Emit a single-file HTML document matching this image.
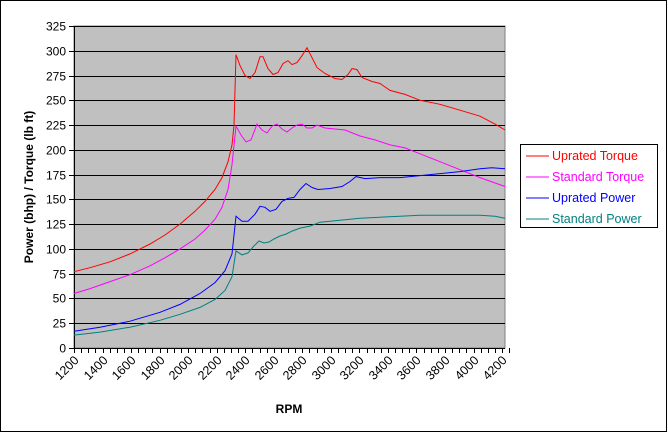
<!DOCTYPE html>
<html><head><style>
html,body{margin:0;padding:0;background:#fff}
svg{display:block;font-family:"Liberation Sans",Arial,sans-serif}
</style></head><body>
<svg id="s" width="668" height="433" viewBox="0 0 668 433" xmlns="http://www.w3.org/2000/svg">
<rect x="0.5" y="0.5" width="666" height="431" fill="#fff" stroke="#000"/>
<rect x="74" y="26" width="431" height="322" fill="#c0c0c0" stroke="#808080"/>
<g id="grid"></g>
<g id="series" fill="none" stroke-width="1"></g>
<text transform="translate(33,187) rotate(-90)" text-anchor="middle" font-size="12" font-weight="bold" x="0" y="0">Power (bhp) / Torque (lb ft)</text>
<text x="289" y="413" text-anchor="middle" font-size="12" font-weight="bold">RPM</text>
<rect x="520.5" y="144.5" width="137" height="83" fill="#fff" stroke="#000"/>
<g font-size="12.5">
<line x1="526" y1="156" x2="549" y2="156" stroke="#f00"/><text x="552" y="160" fill="#f00">Uprated Torque</text>
<line x1="526" y1="177" x2="549" y2="177" stroke="#f0f"/><text x="552" y="181" fill="#f0f">Standard Torque</text>
<line x1="526" y1="198" x2="549" y2="198" stroke="#00f"/><text x="552" y="202" fill="#00f">Uprated Power</text>
<line x1="526" y1="219" x2="549" y2="219" stroke="#008080"/><text x="552" y="223" fill="#008080">Standard Power</text>
</g>
</svg>
<script>
var NS="http://www.w3.org/2000/svg";
function Y(v){return 348-v*0.9908;}
function el(t,a,p,txt){var e=document.createElementNS(NS,t);for(var k in a)e.setAttribute(k,a[k]);if(txt!==undefined)e.textContent=txt;p.appendChild(e);return e;}
var g=document.getElementById('grid');
for(var v=0;v<=325;v+=25){var y=Math.round(Y(v))+0.5;
 if(v>0)el('line',{x1:74,y1:y,x2:505,y2:y,stroke:'#000'},g);
 el('line',{x1:69,y1:y,x2:74,y2:y,stroke:'#000'},g);
 el('text',{x:66,y:y+4,'text-anchor':'end','font-size':12},g,v);}
el('line',{x1:74.5,y1:26,x2:74.5,y2:348,stroke:'#000'},g);
el('line',{x1:74,y1:348.5,x2:505,y2:348.5,stroke:'#000'},g);
for(var r=1200;r<=4250;r+=50){var x=Math.round(74+(r-1200)*0.1427)+0.5;
 el('line',{x1:x,y1:348,x2:x,y2:353,stroke:'#000'},g);
 if(r%200==0&&r<=4200){el('text',{x:0,y:0,'text-anchor':'end','font-size':12.5,transform:'translate('+(x+5)+',361) rotate(-45)'},g,r);}}
var S=document.getElementById('series');
var data={
'#f00':[[74,77],[90,81],[110,87],[130,95],[150,105],[165,114],[180,125],[195,138],[205,148],[215,160],[222,172],[228,188],[232,205],[234,225],[236,296],[240,285],[245,275],[250,272],[255,278],[260,294],[263,294],[268,282],[273,276],[278,278],[283,287],[288,290],[292,286],[297,288],[302,295],[307,303],[312,293],[317,283],[325,277],[335,272],[342,271],[348,276],[352,282],[357,281],[362,273],[372,269],[380,267],[390,260],[405,256],[420,250],[440,246],[460,240],[480,234],[495,226],[505,220]],
'#f0f':[[74,55],[90,60],[110,67],[130,74],[150,83],[165,91],[180,100],[195,110],[205,119],[215,130],[222,142],[228,160],[232,185],[236,224],[241,215],[246,208],[251,210],[257,226],[262,220],[267,217],[272,224],[277,226],[282,221],[287,218],[292,222],[297,225],[302,226],[307,222],[312,222],[317,225],[325,222],[345,220],[360,214],[375,210],[390,205],[405,202],[420,196],[440,188],[460,180],[480,172],[505,163]],
'#00f':[[74,17],[100,21],[130,27],[160,36],[180,44],[200,55],[215,66],[225,78],[232,95],[236,133],[242,128],[248,128],[255,135],[260,143],[265,142],[270,138],[276,140],[282,148],[288,151],[294,152],[300,160],[306,166],[312,162],[318,160],[330,161],[342,163],[350,168],[356,173],[365,171],[380,172],[400,172],[420,174],[440,176],[460,178],[480,181],[492,182],[505,181]],
'#008080':[[74,13],[100,16],[130,21],[160,28],[180,34],[200,41],[215,49],[225,58],[232,72],[236,98],[242,94],[248,96],[254,103],[259,108],[264,106],[269,107],[274,110],[280,113],[286,115],[292,118],[300,121],[310,123],[320,127],[340,129],[360,131],[380,132],[400,133],[420,134],[440,134],[460,134],[480,134],[495,133],[505,131]]};
for(var c in data){el('polyline',{points:data[c].map(function(p){return p[0]+','+Y(p[1]).toFixed(1)}).join(' '),stroke:c},S);}
</script>
</body></html>
